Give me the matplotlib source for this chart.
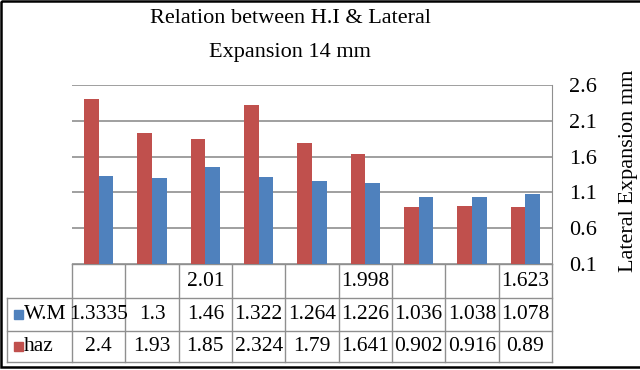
import matplotlib.pyplot as plt
from matplotlib.patches import Rectangle

plt.rcParams['font.family'] = ['Liberation Serif', 'DejaVu Serif']

# data
categories = ['', '', '2.01', '', '', '1.998', '', '', '1.623']
wm = [1.3335, 1.3, 1.46, 1.322, 1.264, 1.226, 1.036, 1.038, 1.078]
haz = [2.4, 1.93, 1.85, 2.324, 1.79, 1.641, 0.902, 0.916, 0.89]
yticks = [0.1, 0.6, 1.1, 1.6, 2.1, 2.6]

W, H = 640, 370
red = '#C0504D'
blue = '#4F81BD'
grid_c = '#8f8f8f'
fs_tab = 15.5
fs_big = 16

fig = plt.figure(figsize=(W / 100, H / 100), dpi=100)

# plot area in pixel units (from top-left)
px_l, px_r, px_t, px_b = 72, 552, 85, 264
ax = fig.add_axes([px_l / W, 1 - px_b / H, (px_r - px_l) / W, (px_b - px_t) / H])
n = len(categories)
x = list(range(n))
bw = 0.275
ax.bar([i - bw / 2 for i in x], haz, bw, color=red, zorder=3)
ax.bar([i + bw / 2 for i in x], wm, bw, color=blue, zorder=3)
ax.set_xlim(-0.5, n - 0.5)
ax.set_ylim(0.1, 2.6)
ax.set_yticks(yticks)
ax.set_yticklabels([f'{t:.1f}' for t in yticks], fontsize=fs_big)
ax.yaxis.tick_right()
ax.yaxis.set_label_position('right')
ax.tick_params(axis='y', length=0, pad=12)
ax.set_xticks([])
ax.grid(axis='y', color=grid_c, linewidth=1.2, zorder=0)
for s in ['left', 'top', 'bottom']:
    ax.spines[s].set_visible(False)
ax.spines['right'].set_color(grid_c)
ax.set_ylabel('Lateral Expansion mm', fontsize=fs_big)
ax.yaxis.set_label_coords((619 - px_l) / (px_r - px_l), (px_b - 171) / (px_b - px_t))

# overlay in pixel coordinates for title, table and frame
ov = fig.add_axes([0, 0, 1, 1], zorder=-1)
ov.set_xlim(0, W)
ov.set_ylim(H, 0)
ov.axis('off')

ov.text(290, 23, 'Relation between H.I & Lateral', ha='center', va='baseline', fontsize=fs_big)
ov.text(290, 57, 'Expansion 14 mm', ha='center', va='baseline', fontsize=fs_big)

# data table
tl = 7
rows_y = [264, 298, 331, 362]
cw = (px_r - px_l) / n
col_x = [px_l + k * cw for k in range(n + 1)]
lw = 1.0
ov.plot([px_l, px_r], [rows_y[0]] * 2, color=grid_c, lw=lw)
for yy in rows_y[1:]:
    ov.plot([tl, px_r], [yy] * 2, color=grid_c, lw=lw)
ov.plot([tl, tl], [rows_y[1], rows_y[3]], color=grid_c, lw=lw)
for xx in col_x:
    ov.plot([xx, xx], [rows_y[0], rows_y[3]], color=grid_c, lw=lw)

mids = [(rows_y[k] + rows_y[k + 1]) / 2 for k in range(3)]
for k in range(n):
    cx = (col_x[k] + col_x[k + 1]) / 2
    ov.text(cx, mids[0], categories[k], ha='center', va='center', fontsize=fs_tab)
    ov.text(cx, mids[1], str(wm[k]), ha='center', va='center', fontsize=fs_tab)
    ov.text(cx, mids[2], str(haz[k]), ha='center', va='center', fontsize=fs_tab)

# legend keys in row headers
for yy, col, lab in [(mids[1], blue, 'W.M'), (mids[2], red, 'haz')]:
    ov.add_patch(Rectangle((14, yy - 5), 9, 9, color=col))
    ov.text(23.5, yy, lab, ha='left', va='center', fontsize=fs_tab)

# chart frame
ov.add_patch(Rectangle((1, 1), W + 5, 366, fill=False, edgecolor='black', lw=1.8))

fig.savefig('out.png', dpi=100)
